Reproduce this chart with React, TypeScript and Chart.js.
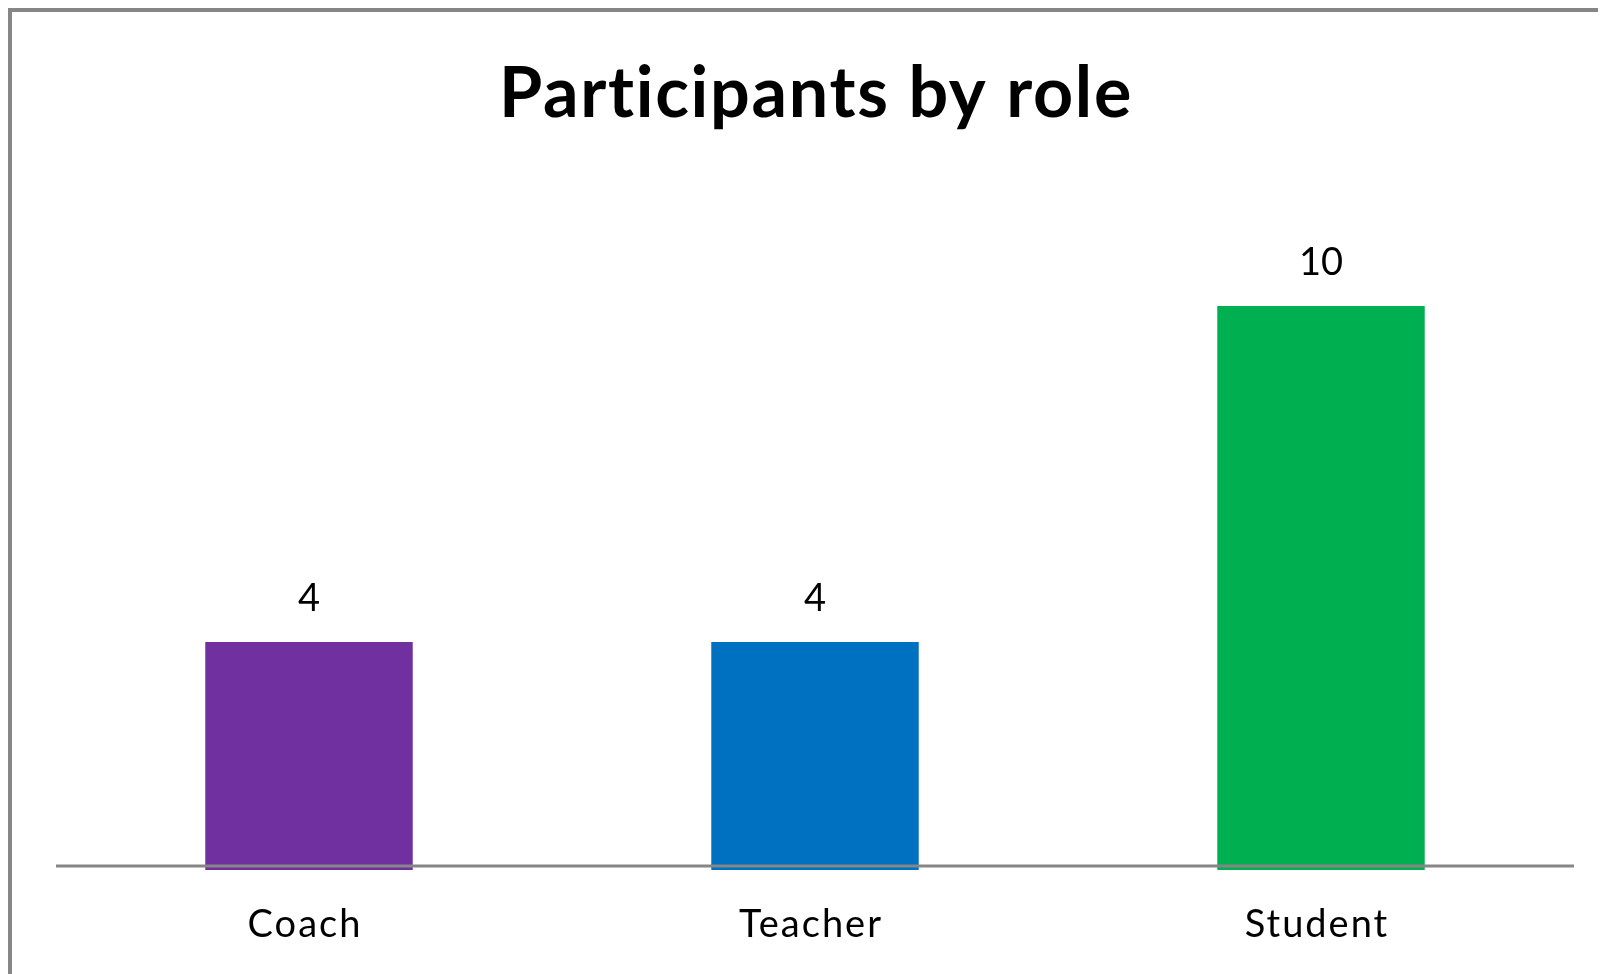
import React, { useEffect, useRef } from "react";
import { Chart, registerables } from "chart.js";

Chart.register(...registerables);

const TITLE = "Participants by role";
const CATEGORIES = ["Coach", "Teacher", "Student"];
const PARTICIPANTS = [4, 4, 10];
const BAR_COLORS = ["#7030A0", "#0070C0", "#00B050"];
const Y_MIN = 0;
const Y_MAX = 12;

const AXIS_COLOR = "#868686";
const TEXT_COLOR = "#000000";

const annotatePlugin = {
  id: "annotate",
  afterDatasetsDraw(chart: any) {
    const { ctx, chartArea, scales } = chart;
    const y0 = scales.y.getPixelForValue(0);
    ctx.save();
    // baseline axis
    ctx.strokeStyle = AXIS_COLOR;
    ctx.lineWidth = 3;
    ctx.beginPath();
    ctx.moveTo(chartArea.left, y0);
    ctx.lineTo(chartArea.right, y0);
    ctx.stroke();

    // data labels
    ctx.fillStyle = TEXT_COLOR;
    ctx.font = "38px Lato";
    ctx.textAlign = "center";
    ctx.textBaseline = "alphabetic";
    const meta = chart.getDatasetMeta(0);
    meta.data.forEach((bar: any, i: number) => {
      ctx.fillText(String(PARTICIPANTS[i]), bar.x, bar.y - 31);
    });

    // category labels
    (ctx as any).letterSpacing = "2px";
    CATEGORIES.forEach((c, i) => {
      ctx.fillText(c, scales.x.getPixelForValue(i) - 4, y0 + 71);
    });

    // title
    ctx.font = "bold 70px Lato";
    (ctx as any).letterSpacing = "1.7px";
    ctx.fillText(TITLE, (chartArea.left + chartArea.right) / 2 + 1, 105);
    ctx.restore();
  },
};

export default function App() {
  const ref = useRef<HTMLCanvasElement | null>(null);

  useEffect(() => {
    let chart: Chart | null = null;
    let cancelled = false;
    const make = () => {
      if (cancelled || !ref.current) return;
      chart = new Chart(ref.current, {
        type: "bar",
        data: {
          labels: CATEGORIES,
          datasets: [
            {
              data: PARTICIPANTS,
              backgroundColor: BAR_COLORS,
              borderWidth: 0,
              barPercentage: 0.41,
              categoryPercentage: 1,
              base: -0.07,
              clip: false as any,
            } as any,
          ],
        },
        options: {
          responsive: false,
          animation: false,
          devicePixelRatio: 1,
          layout: { padding: { left: 44, right: 24, top: 182, bottom: 108 } },
          plugins: {
            legend: { display: false },
            tooltip: { enabled: false },
            title: { display: false },
          },
          scales: {
            x: { display: false },
            y: { display: false, min: Y_MIN, max: Y_MAX },
          },
        },
        plugins: [annotatePlugin],
      });
    };
    const fonts: any = (document as any).fonts;
    if (fonts && fonts.load) {
      Promise.all([
        fonts.load("bold 70px Lato"),
        fonts.load("38px Lato"),
      ])
        .catch(() => null)
        .then(make);
    } else {
      make();
    }
    return () => {
      cancelled = true;
      if (chart) chart.destroy();
    };
  }, []);

  return (
    <div
      style={{
        width: 1590,
        height: 966,
        boxSizing: "border-box",
        borderTop: `4px solid ${AXIS_COLOR}`,
        borderLeft: `4px solid ${AXIS_COLOR}`,
        background: "#ffffff",
        overflow: "hidden",
      }}
    >
      <canvas
        ref={ref}
        width={1586}
        height={962}
        style={{ display: "block", width: 1586, height: 962 }}
      />
    </div>
  );
}
